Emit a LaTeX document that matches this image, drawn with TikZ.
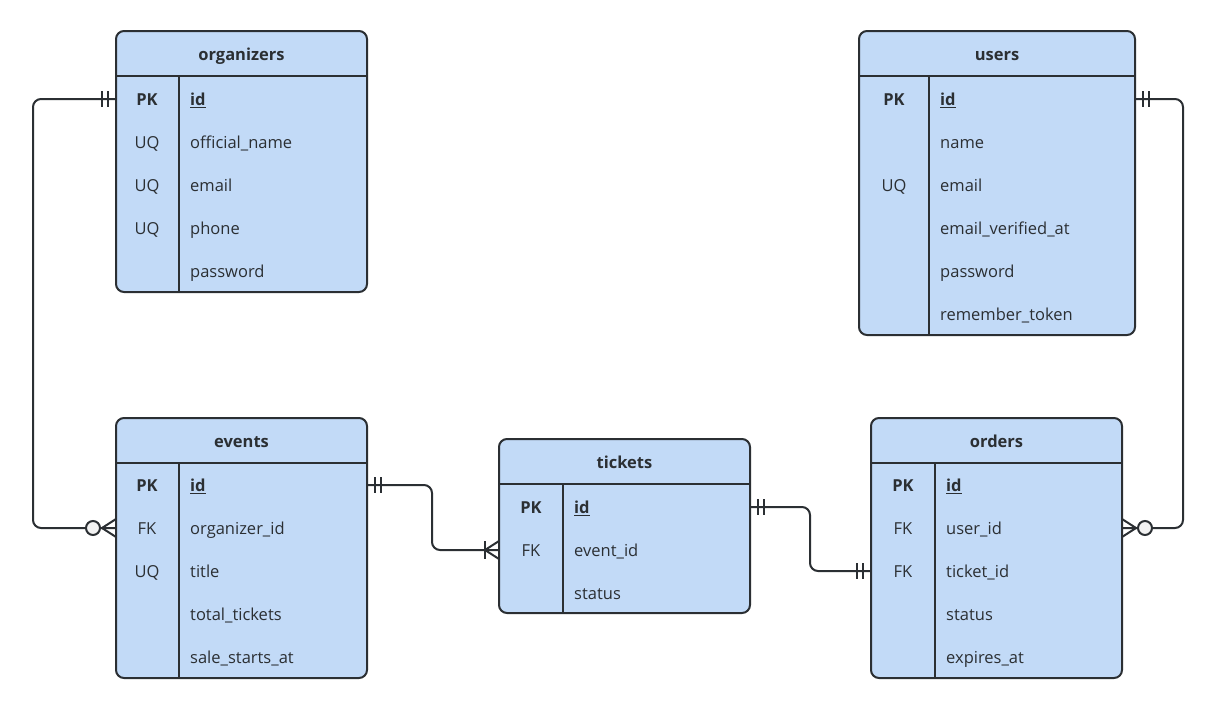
\documentclass[tikz,border=0pt]{standalone}
\usepackage{fontspec}
\setmainfont{Open Sans}
\usetikzlibrary{calc}
\definecolor{tfill}{HTML}{C2DAF7}
\definecolor{ink}{HTML}{2B2F33}
\newcommand\ertable[7]{% name x1 x2 xdiv ytop ybot title
  \draw[tbl] (#2,#5) rectangle (#3,#6);
  \node[tbl title] (#1) at ({(#2+#3)/2},#5+23) {#7};
  \draw[ink,line width=2pt] (#2,#5+45) -- (#3,#5+45);
  \draw[ink,line width=2pt] (#4,#5+45) -- (#4,#6);
}
\tikzset{
  txt/.style={text=ink,text height=15pt,text depth=2pt,inner sep=0pt},
  tbl/.style={fill=tfill,draw=ink,line width=2pt,rounded corners=8pt},
  tbl title/.style={txt,font=\bfseries\fontsize{16.5}{19}\selectfont},
  key/.style={txt,font=\fontsize{16.5}{19}\selectfont},
  fld/.style={txt,font=\fontsize{16.5}{19}\selectfont,anchor=west},
  conn/.style={ink,line width=2pt,rounded corners=8pt},
  mk/.style={ink,line width=2pt},
}
\newcommand\rows[4]{% prefix keyx fieldx list y/key/field
  \foreach \y/\k/\f in {#4}{\node[key] at (#2,\y) {\k}; \node[fld] at (#3,\y) {\f};}
}
\newcommand\bars[3]{\draw[mk] (#1+#3*8,#2-8) -- (#1+#3*8,#2+8) (#1+#3*14,#2-8) -- (#1+#3*14,#2+8);}
\newcommand\crow[3]{\draw[mk] (#1,#2-9) -- (#1+#3*14,#2) -- (#1,#2+9);}
\newcommand\ring[3]{\draw[mk,fill=white!90!gray] (#1+#3*23,#2) circle (7);}
\begin{document}
\begin{tikzpicture}[x=1pt,y=-1pt]
\useasboundingbox (0,0) rectangle (1207,707);
\ertable{organizers}{116}{367}{179}{31}{292}{organizers}
\node[key,font=\bfseries\fontsize{16.5}{19}\selectfont] at (147,99) {PK};
\node[fld,font=\bfseries\fontsize{16.5}{19}\selectfont] at (190,99) {\underline{id}};
\rows{organizers}{147}{190}{142/UQ/official\_name,185/UQ/email,228/UQ/phone,271//password}
\ertable{users}{859}{1135}{929}{31}{335}{users}
\node[key,font=\bfseries\fontsize{16.5}{19}\selectfont] at (894,99) {PK};
\node[fld,font=\bfseries\fontsize{16.5}{19}\selectfont] at (940,99) {\underline{id}};
\rows{users}{894}{940}{142//name,185/UQ/email,228//email\_verified\_at,271//password,314//remember\_token}
\ertable{events}{116}{367}{179}{418}{678}{events}
\node[key,font=\bfseries\fontsize{16.5}{19}\selectfont] at (147,485) {PK};
\node[fld,font=\bfseries\fontsize{16.5}{19}\selectfont] at (190,485) {\underline{id}};
\rows{events}{147}{190}{528/FK/organizer\_id,571/UQ/title,614//total\_tickets,657//sale\_starts\_at}
\ertable{tickets}{499}{750}{563}{439}{613}{tickets}
\node[key,font=\bfseries\fontsize{16.5}{19}\selectfont] at (531,507) {PK};
\node[fld,font=\bfseries\fontsize{16.5}{19}\selectfont] at (574,507) {\underline{id}};
\rows{tickets}{531}{574}{550/FK/event\_id,593//status}
\ertable{orders}{871}{1122}{935}{418}{678}{orders}
\node[key,font=\bfseries\fontsize{16.5}{19}\selectfont] at (903,485) {PK};
\node[fld,font=\bfseries\fontsize{16.5}{19}\selectfont] at (946,485) {\underline{id}};
\rows{orders}{903}{946}{528/FK/user\_id,571/FK/ticket\_id,614//status,657//expires\_at}
\coordinate (org-id) at (116,99);
\coordinate (ev-org) at (116,528);
\coordinate (ev-id) at (367,485);
\coordinate (tk-ev) at (499,550);
\coordinate (tk-id) at (750,507);
\coordinate (or-tk) at (871,571);
\coordinate (us-id) at (1135,99);
\coordinate (or-us) at (1122,528);
\coordinate (c1) at (33,99);
\coordinate (c2) at (432,485);
\coordinate (c3) at (810,507);
\coordinate (c4) at (1183,99);
\draw[conn] (org-id) -- (c1) |- (ev-org);
\draw[conn] (ev-id) -- (c2) |- (tk-ev);
\draw[conn] (tk-id) -- (c3) |- (or-tk);
\draw[conn] (us-id) -- (c4) |- (or-us);
\bars{116}{99}{-1}
\crow{116}{528}{-1}\ring{116}{528}{-1}
\bars{367}{485}{1}
\crow{499}{550}{-1}\draw[mk] (485,541) -- (485,559);
\bars{750}{507}{1}
\bars{871}{571}{-1}
\bars{1135}{99}{1}
\crow{1122}{528}{1}\ring{1122}{528}{1}
\end{tikzpicture}
\end{document}
